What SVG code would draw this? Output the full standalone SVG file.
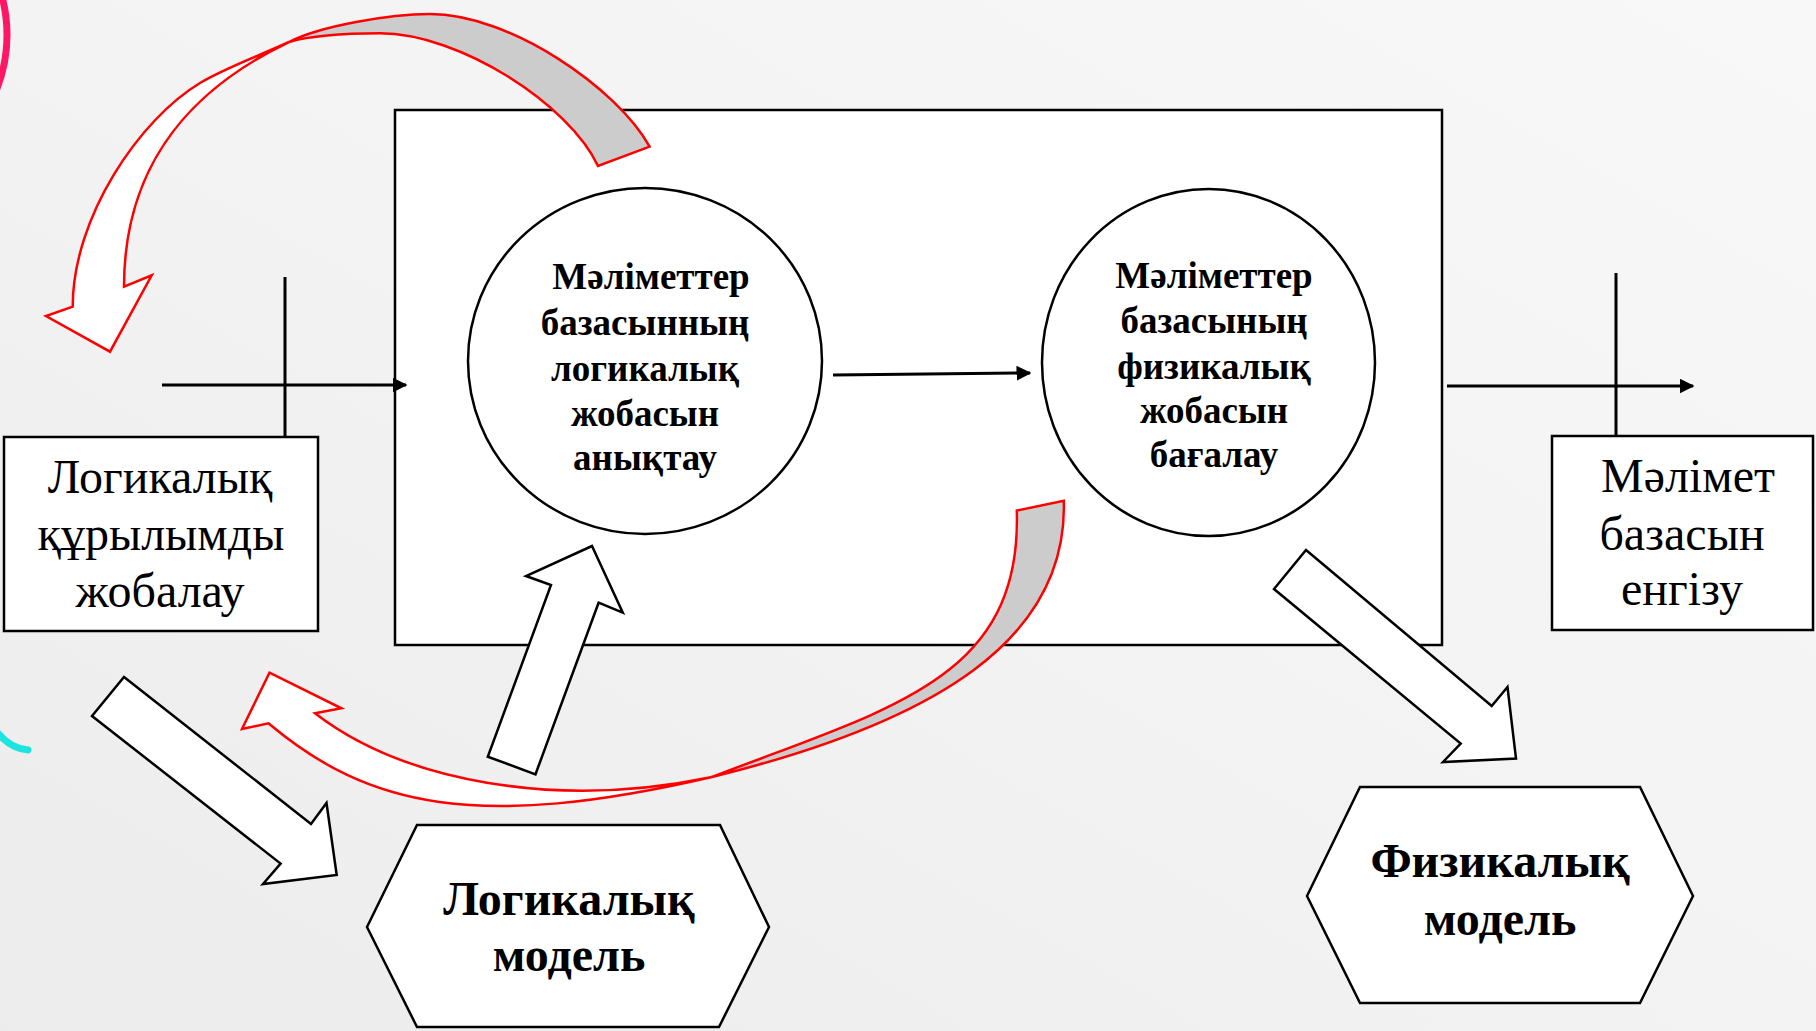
<svg xmlns="http://www.w3.org/2000/svg" width="1816" height="1031" viewBox="0 0 1816 1031">
<defs>
<linearGradient id="bg" x1="0" y1="1" x2="1" y2="0">
<stop offset="0" stop-color="#ececec"/>
<stop offset="0.6" stop-color="#f4f4f4"/>
<stop offset="1" stop-color="#f8f8f8"/>
</linearGradient>
<marker id="ah" viewBox="0 0 10 10" refX="9" refY="5" markerWidth="5" markerHeight="5" orient="auto" markerUnits="strokeWidth">
<path d="M0,0 L10,5 L0,10 Z" fill="#000"/>
</marker>
<style>
.box{fill:#fff;stroke:#000;stroke-width:2.5}
.line{fill:none;stroke:#000;stroke-width:3}
.blk{fill:#fff;stroke:#000;stroke-width:2.5;stroke-linejoin:miter}
.red{stroke:#ff0000;stroke-width:2.5;stroke-linejoin:miter}
.gray{fill:#cccccc}
.white{fill:#ffffff}
.reg{font-family:"Liberation Serif","Times New Roman",serif;font-size:48px;fill:#000;text-anchor:middle}
.bold{font-family:"Liberation Serif","Times New Roman",serif;font-weight:bold;font-size:37px;fill:#000;text-anchor:middle}
.hex{font-family:"Liberation Serif","Times New Roman",serif;font-weight:bold;font-size:48px;fill:#000;text-anchor:middle}
</style>
</defs>
<rect x="0" y="0" width="1816" height="1031" fill="url(#bg)"/>
<circle cx="-141" cy="35" r="148" fill="none" stroke="#ff1763" stroke-width="7"/>
<path d="M -6 728 Q 8 748 28 750" fill="none" stroke="#1ee3df" stroke-width="7" stroke-linecap="round"/>

<g id="frame">
<rect class="box" x="395" y="110" width="1047" height="535"/>
</g>

<g id="node-logical-design">
<ellipse class="box" cx="645" cy="361" rx="177" ry="173"/>
<text class="bold" x="651" y="289">Мәліметтер</text>
<text class="bold" x="645" y="335">базасынның</text>
<text class="bold" x="645" y="381">логикалық</text>
<text class="bold" x="645" y="426">жобасын</text>
<text class="bold" x="645" y="470">анықтау</text>
</g>

<g id="node-physical-design">
<ellipse class="box" cx="1208.5" cy="362.5" rx="166.5" ry="173.5"/>
<text class="bold" x="1214" y="288">Мәліметтер</text>
<text class="bold" x="1214" y="333">базасының</text>
<text class="bold" x="1214" y="379">физикалық</text>
<text class="bold" x="1214" y="423">жобасын</text>
<text class="bold" x="1214" y="467">бағалау</text>
</g>

<g id="node-logical-structure">
<rect class="box" x="4" y="437" width="314" height="194"/>
<text class="reg" x="160" y="493">Логикалық</text>
<text class="reg" x="161" y="550">құрылымды</text>
<text class="reg" x="160" y="607">жобалау</text>
</g>

<g id="node-db-implementation">
<rect class="box" x="1552" y="436" width="261" height="194"/>
<text class="reg" x="1688" y="492">Мәлімет</text>
<text class="reg" x="1682" y="550">базасын</text>
<text class="reg" x="1682" y="605">енгізу</text>
</g>

<g id="node-logical-model">
<polygon class="box" points="367,927 417,825 720,825 769,927 719,1027 417,1027"/>
<text class="hex" x="569" y="915">Логикалық</text>
<text class="hex" x="569" y="971">модель</text>
</g>

<g id="node-physical-model">
<polygon class="box" points="1307,896 1360,787 1640,787 1693,896 1640,1003 1360,1003"/>
<text class="hex" x="1500" y="877">Физикалық</text>
<text class="hex" x="1500" y="935">модель</text>
</g>

<g id="connectors">
<line class="line" x1="285" y1="277" x2="285" y2="437"/>
<line class="line" x1="162" y1="385" x2="406" y2="385" marker-end="url(#ah)"/>
<line class="line" x1="1616" y1="273" x2="1616" y2="436"/>
<line class="line" x1="1447" y1="386" x2="1693" y2="386" marker-end="url(#ah)"/>
<line class="line" x1="833" y1="375" x2="1030" y2="373" marker-end="url(#ah)"/>

<polygon class="blk" points="124,677 311,824 326.5,803 336.7,875 263,884 280.6,863.6 92,716"/>
<polygon class="blk" points="592,546 622.8,612.7 598.6,602.7 535.5,774.3 487.8,756.7 551,585 526,576"/>
<polygon class="blk" points="1306,550 1491.7,706 1507.5,687 1516,758.6 1443,762 1460.7,743.5 1274,589"/>

<path class="red gray" d="M 649.6 146.7 C 617 88 510 14 430 14 C 390 14 320 26 289 42 C 310 36 345 33.3 380 33.3 C 460 33.3 570 105 598 166 Z"/>
<path class="red white" d="M 289 42 C 261.8 54.7 225.7 67.6 200 83 C 140 119 72.7 216.7 72.7 306.7 L 46 316 L 110 351.7 L 151.7 275.3 L 124 286.7 C 124 156.7 199 85 289 42 Z"/>

<path class="red gray" d="M 1063.8 500.7 C 1068 640 935 722 712 777 C 890 708 1022 680 1016.8 510.6 Z"/>
<path class="red white" d="M 712 777 C 476.8 831.5 367.9 807 268.4 723.3 L 242 729 L 269.5 672.7 L 341.4 708.3 L 315 713.3 C 401.9 780.4 554 810 712 777 Z"/>
</g>
</svg>
